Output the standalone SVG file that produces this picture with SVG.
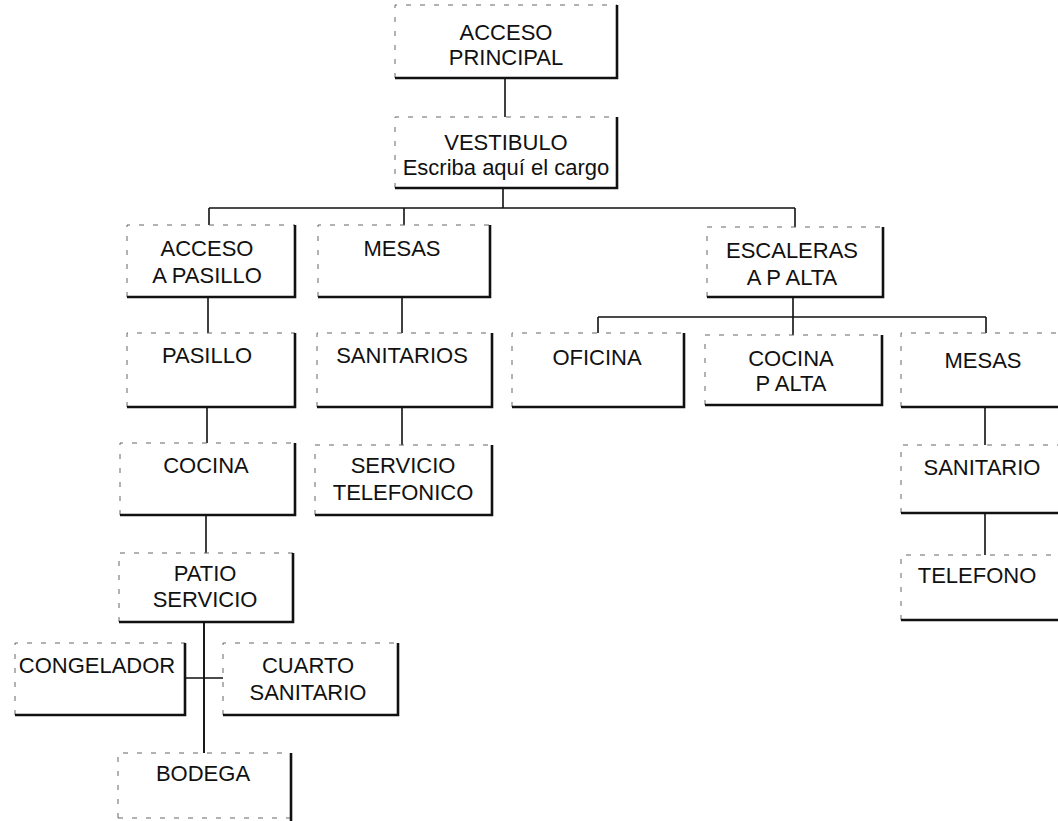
<svg xmlns="http://www.w3.org/2000/svg" width="1058" height="821" viewBox="0 0 1058 821">
<style>
.bg{fill:#ffffff;stroke:none}
.tl{fill:none;stroke:#666;stroke-width:1;stroke-dasharray:5 9}
.br{fill:none;stroke:#111;stroke-width:2.6}
.t{font-family:"Liberation Sans",Arial,sans-serif;font-size:22px;fill:#111;text-anchor:middle}
.c{fill:none;stroke:#111;stroke-width:1.6}
</style>
<rect width="1058" height="821" fill="#ffffff"/>
<g id="connectors">
<path class="c" d="M505 78V117"/>
<path class="c" d="M503 188V208M209 208H795M209 208V225M404 208V225M795 208V227"/>
<path class="c" d="M208 297V333M207 407V443M206 515V553M204 622V753M185 678H223"/>
<path class="c" d="M402 297V333M402 407V445"/>
<path class="c" d="M793 297V317M598 317H986M598 317V333M793 317V335M986 317V333"/>
<path class="c" d="M985 407V445M985 513V555"/>
</g>
<g id="n_acceso_principal">
<rect class="bg" x="395" y="5" width="222" height="73"/>
<path class="tl" d="M395 78V5H617"/><path class="br" d="M617 5V78H395"/>
<text class="t" x="506" y="40">ACCESO</text><text class="t" x="506" y="65">PRINCIPAL</text>
</g>
<g id="n_vestibulo">
<rect class="bg" x="395" y="117" width="222" height="71"/>
<path class="tl" d="M395 188V117H617"/><path class="br" d="M617 117V188H395"/>
<text class="t" x="506" y="150">VESTIBULO</text><text class="t" x="506" y="175">Escriba aquí el cargo</text>
</g>
<g id="n_acceso_pasillo">
<rect class="bg" x="127" y="225" width="168" height="72"/>
<path class="tl" d="M127 297V225H295"/><path class="br" d="M295 225V297H127"/>
<text class="t" x="207" y="256">ACCESO</text><text class="t" x="207" y="283">A PASILLO</text>
</g>
<g id="n_mesas1">
<rect class="bg" x="318" y="225" width="172" height="72"/>
<path class="tl" d="M318 297V225H490"/><path class="br" d="M490 225V297H318"/>
<text class="t" x="402" y="256">MESAS</text>
</g>
<g id="n_escaleras">
<rect class="bg" x="707" y="227" width="176" height="70"/>
<path class="tl" d="M707 297V227H883"/><path class="br" d="M883 227V297H707"/>
<text class="t" x="792" y="258">ESCALERAS</text><text class="t" x="792" y="285">A P ALTA</text>
</g>
<g id="n_pasillo">
<rect class="bg" x="127" y="333" width="168" height="74"/>
<path class="tl" d="M127 407V333H295"/><path class="br" d="M295 333V407H127"/>
<text class="t" x="207" y="363">PASILLO</text>
</g>
<g id="n_sanitarios">
<rect class="bg" x="317" y="333" width="175" height="74"/>
<path class="tl" d="M317 407V333H492"/><path class="br" d="M492 333V407H317"/>
<text class="t" x="402" y="363">SANITARIOS</text>
</g>
<g id="n_oficina">
<rect class="bg" x="512" y="333" width="172" height="74"/>
<path class="tl" d="M512 407V333H684"/><path class="br" d="M684 333V407H512"/>
<text class="t" x="597" y="365">OFICINA</text>
</g>
<g id="n_cocina_palta">
<rect class="bg" x="705" y="335" width="177" height="70"/>
<path class="tl" d="M705 405V335H882"/><path class="br" d="M882 335V405H705"/>
<text class="t" x="791" y="366">COCINA</text><text class="t" x="791" y="391">P ALTA</text>
</g>
<g id="n_mesas2">
<rect class="bg" x="901" y="333" width="170" height="74"/>
<path class="tl" d="M901 407V333H1071"/><path class="br" d="M1071 333V407H901"/>
<text class="t" x="983" y="368">MESAS</text>
</g>
<g id="n_cocina">
<rect class="bg" x="120" y="443" width="175" height="72"/>
<path class="tl" d="M120 515V443H295"/><path class="br" d="M295 443V515H120"/>
<text class="t" x="206" y="473">COCINA</text>
</g>
<g id="n_servicio_tel">
<rect class="bg" x="315" y="445" width="177" height="70"/>
<path class="tl" d="M315 515V445H492"/><path class="br" d="M492 445V515H315"/>
<text class="t" x="403" y="473">SERVICIO</text><text class="t" x="403" y="500">TELEFONICO</text>
</g>
<g id="n_sanitario">
<rect class="bg" x="901" y="445" width="170" height="68"/>
<path class="tl" d="M901 513V445H1071"/><path class="br" d="M1071 445V513H901"/>
<text class="t" x="982" y="475">SANITARIO</text>
</g>
<g id="n_patio">
<rect class="bg" x="119" y="553" width="174" height="69"/>
<path class="tl" d="M119 622V553H293"/><path class="br" d="M293 553V622H119"/>
<text class="t" x="205" y="581">PATIO</text><text class="t" x="205" y="607">SERVICIO</text>
</g>
<g id="n_telefono">
<rect class="bg" x="901" y="555" width="170" height="65"/>
<path class="tl" d="M901 620V555H1071"/><path class="br" d="M1071 555V620H901"/>
<text class="t" x="977" y="583">TELEFONO</text>
</g>
<g id="n_congelador">
<rect class="bg" x="15" y="643" width="170" height="72"/>
<path class="tl" d="M15 715V643H185"/><path class="br" d="M185 643V715H15"/>
<text class="t" x="97" y="673">CONGELADOR</text>
</g>
<g id="n_cuarto">
<rect class="bg" x="223" y="643" width="175" height="72"/>
<path class="tl" d="M223 715V643H398"/><path class="br" d="M398 643V715H223"/>
<text class="t" x="308" y="673">CUARTO</text><text class="t" x="308" y="700">SANITARIO</text>
</g>
<g id="n_bodega">
<rect class="bg" x="118" y="753" width="173" height="65"/>
<path class="tl" d="M118 818V753H291M118 818H291"/><path class="br" d="M291 753V821"/>
<text class="t" x="203" y="781">BODEGA</text>
</g>
<path class="c" d="M204 622V753"/>
</svg>
